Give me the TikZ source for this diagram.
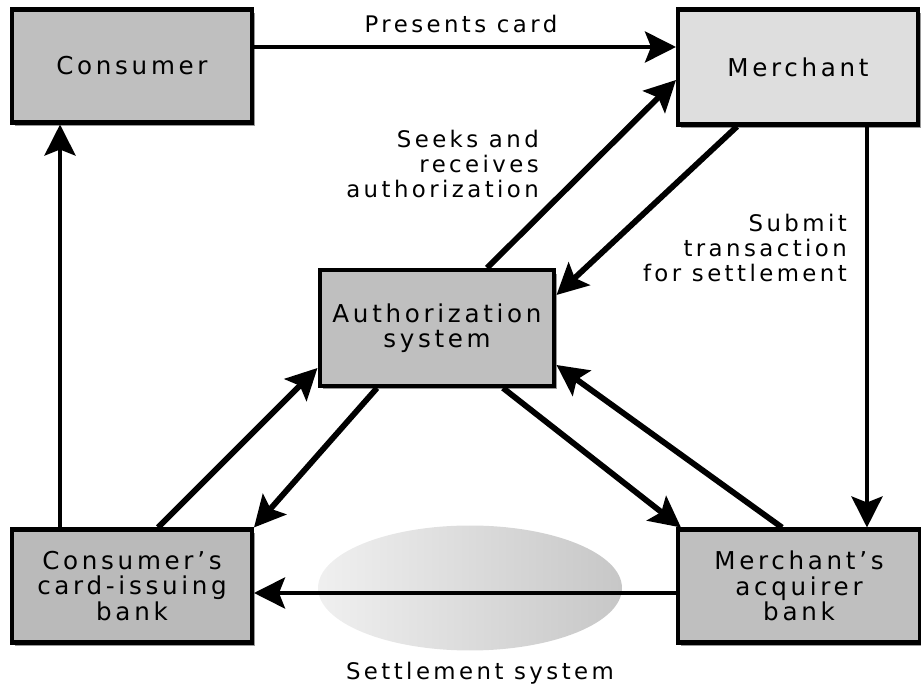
\documentclass[tikz,border=0pt]{standalone}
\usepackage{fontspec}
\setmainfont{DejaVu Sans}[LetterSpace=15]
\usetikzlibrary{positioning,calc,shapes.geometric,arrows.meta,shadows}

\begin{document}
\begin{tikzpicture}[x=0.02cm,y=-0.02cm,
  party/.style={rectangle,draw=black,line width=2.3pt,fill=black!25,
    minimum width=4.8cm,minimum height=2.26cm,align=center,
    font=\fontsize{14}{14.5}\selectfont,
    drop shadow={shadow xshift=0.06cm,shadow yshift=-0.07cm,fill=black!40,opacity=1}},
  flow/.style={line width=2.4pt,-{Stealth[length=0.62cm,width=0.62cm,inset=0.12cm]}},
  diag/.style={line width=3.3pt},
  steplabel/.style={align=right,font=\fontsize{13}{14.2}\selectfont}
]
\useasboundingbox (0,0) rectangle (921,688);
\node[ellipse,minimum width=6.08cm,minimum height=2.5cm,
  left color=black!6,right color=black!22] (settle) at (470,588) {};
\node[font=\fontsize{13}{14.2}\selectfont] (settlelabel) at (480,673) {Settlement system};

\node[party] (consumer) at (132,66) {Consumer};
\node[party,fill=black!13,minimum height=2.3cm] (merchant) at (798,67) {Merchant};
\node[party,minimum width=4.7cm,minimum height=2.32cm] (auth) at (437,328) {Authorization\\system};
\node[party,fill=black!27] (cbank) at (132,586) {Consumer's\\card-issuing\\bank};
\node[party,minimum width=4.84cm] (abank) at (799,586) {Merchant's\\acquirer\\bank};

\node[font=\fontsize{13}{14.2}\selectfont,anchor=base] (present) at (461,33) {Presents card};
\node[steplabel,anchor=east] (seeks) at (545,164) {Seeks and\\receives\\authorization};
\node[steplabel,anchor=east] (submit) at (853,248) {Submit\\transaction\\for settlement};

\draw[flow] ([yshift=0.38cm]consumer.east) coordinate (c1) -- (c1 -| merchant.west);
\draw[flow,diag] ([xshift=1cm]auth.north) -- ([yshift=-0.26cm]merchant.west);
\draw[flow,diag] ([xshift=-1.22cm]merchant.south) -- ([yshift=0.66cm]auth.east);
\draw[flow] ([xshift=1.38cm]merchant.south) coordinate (m1) -- (m1 |- abank.north);
\draw[flow] ([xshift=-1.44cm]cbank.north) coordinate (b1) -- (b1 |- consumer.south);
\draw[flow,diag] ([xshift=0.52cm]cbank.north) -- ([yshift=-0.8cm]auth.west);
\draw[flow,diag] ([xshift=-1.2cm]auth.south) -- (cbank.north east);
\draw[flow,diag] ([xshift=1.32cm]auth.south) -- ([xshift=0.1cm]abank.north west);
\draw[flow,diag] ([xshift=-0.34cm]abank.north) -- ([yshift=-0.74cm]auth.east);
\draw[flow] ([yshift=-0.14cm]abank.west) coordinate (a1) -- (a1 -| cbank.east);
\end{tikzpicture}
\end{document}
